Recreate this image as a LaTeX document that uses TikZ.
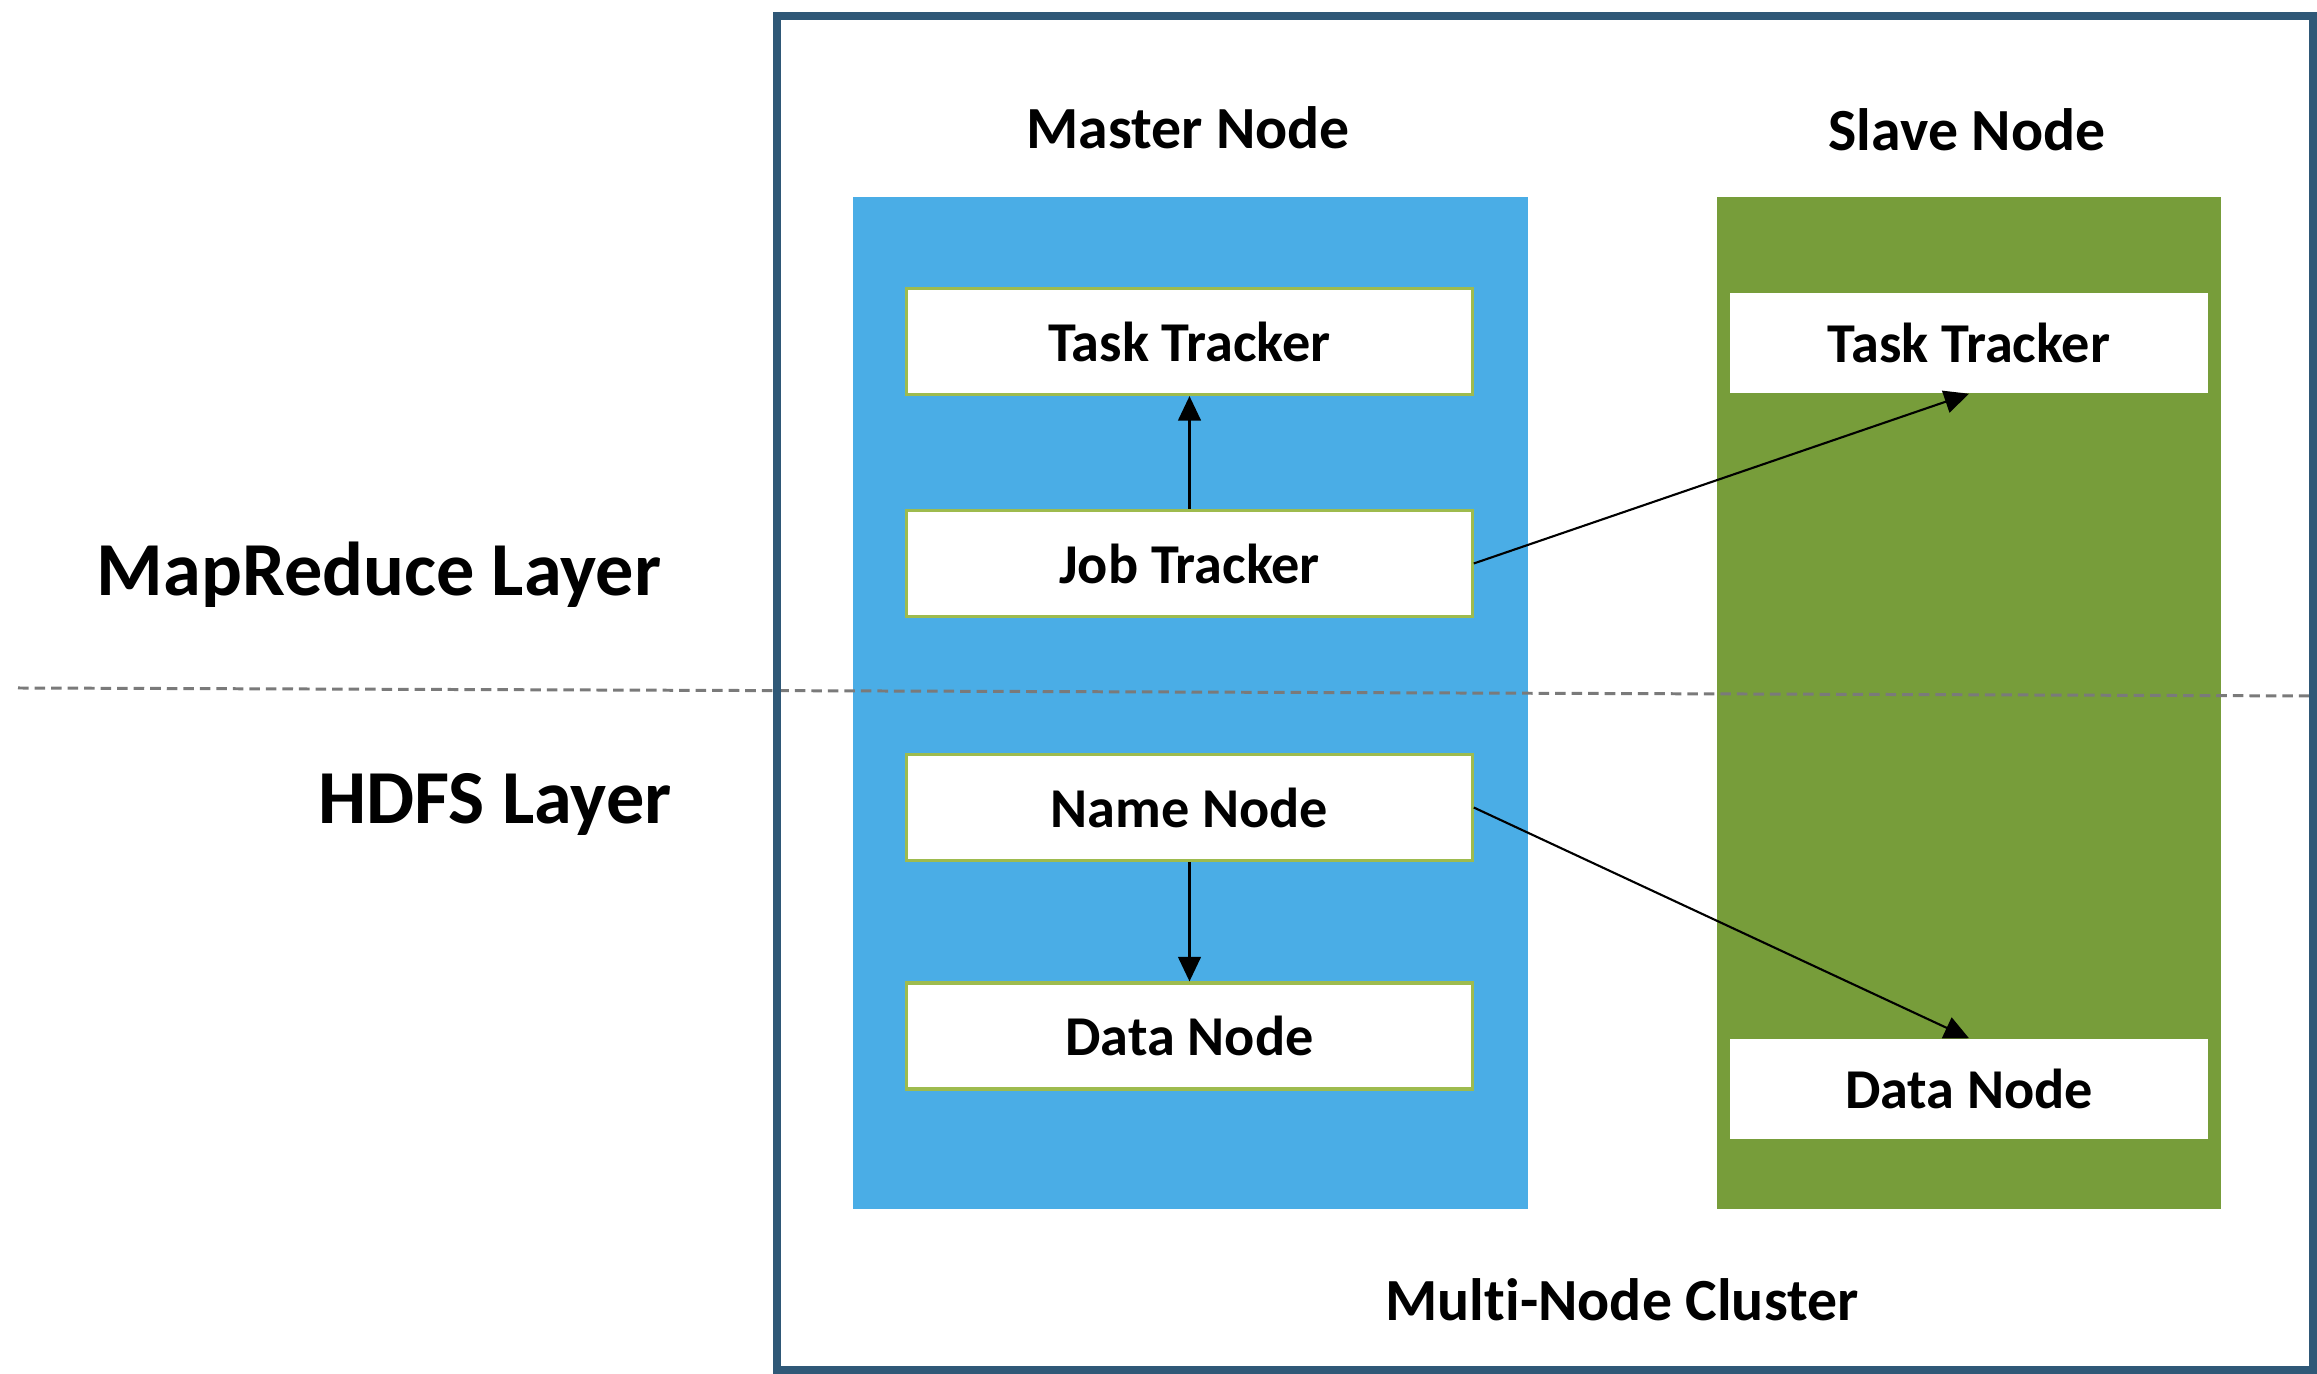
\documentclass[tikz,border=0pt]{standalone}
\usepackage{fontspec}
\setmainfont[Ligatures=NoCommon]{Carlito}
\usetikzlibrary{arrows.meta}
\definecolor{framecol}{HTML}{2F5877}
\definecolor{masterfill}{HTML}{4AADE6}
\definecolor{slavefill}{HTML}{779D3A}
\definecolor{boxedge}{HTML}{9EBB4E}
\definecolor{dashcol}{HTML}{7A7A7A}
\tikzset{
  title/.style={font=\fontsize{17}{20}\selectfont\bfseries, text=black},
  layer/.style={font=\fontsize{21.7}{25}\selectfont\bfseries, text=black},
  column/.style={inner sep=0pt, outer sep=0pt},
  mbox/.style={draw=boxedge, line width=0.9pt, fill=white, minimum width=5.65cm,
    minimum height=1.06cm, inner sep=0pt, font=\fontsize{16}{19}\selectfont\bfseries},
  sbox/.style={fill=white, minimum width=4.78cm, minimum height=1.0cm, inner sep=0pt,
    font=\fontsize{16}{19}\selectfont\bfseries},
  link/.style={line width=0.6pt, -{Triangle[length=7pt,width=6.5pt]}},
}
\begin{document}
\begin{tikzpicture}[x=0.01cm, y=-0.01cm]
\useasboundingbox (0,0) rectangle (2317,1374);
% column backgrounds
\node[column, fill=masterfill, minimum width=6.75cm, minimum height=10.12cm] (master) at (1190.5,703) {};
\node[column, fill=slavefill, minimum width=5.04cm, minimum height=10.12cm] (slave) at (1969,703) {};
% layer separator
\coordinate (sepL) at (18,688);
\coordinate (sepR) at (2317,696);
\draw[dashcol, line width=0.85pt, dash pattern=on 3pt off 1.7pt] (sepL) -- (sepR);
% cluster frame
\draw[framecol, line width=2.4pt] (777,16) rectangle (2313,1370);
% headings
\node[title] (mtitle) at (1188,128) {Master Node};
\node[title] (stitle) at (1967,130) {Slave Node};
\node[title] (cluster) at (1622,1300) {Multi-Node Cluster};
\node[layer] (mrlayer) at (379,575) {MapReduce Layer};
\node[layer] (hdfslayer) at (495,804) {HDFS Layer};
% master daemons
\node[mbox] (mtt) at (1189.5,341.5) {Task Tracker};
\node[mbox] (mjt) at (1189.5,563.5) {Job Tracker};
\node[mbox] (mnn) at (1189.5,807.5) {Name Node};
\node[mbox] (mdn) at (1189.5,1036) {Data Node};
% slave daemons
\node[sbox] (stt) at (1969,343) {Task Tracker};
\node[sbox] (sdn) at (1969,1089) {Data Node};
% connections
\draw[link] (mjt) -- (mtt);
\draw[link] (mnn) -- (mdn);
\draw[link] (mjt.east) -- (stt.south);
\draw[link] (mnn.east) -- (sdn.north);
\end{tikzpicture}
\end{document}
